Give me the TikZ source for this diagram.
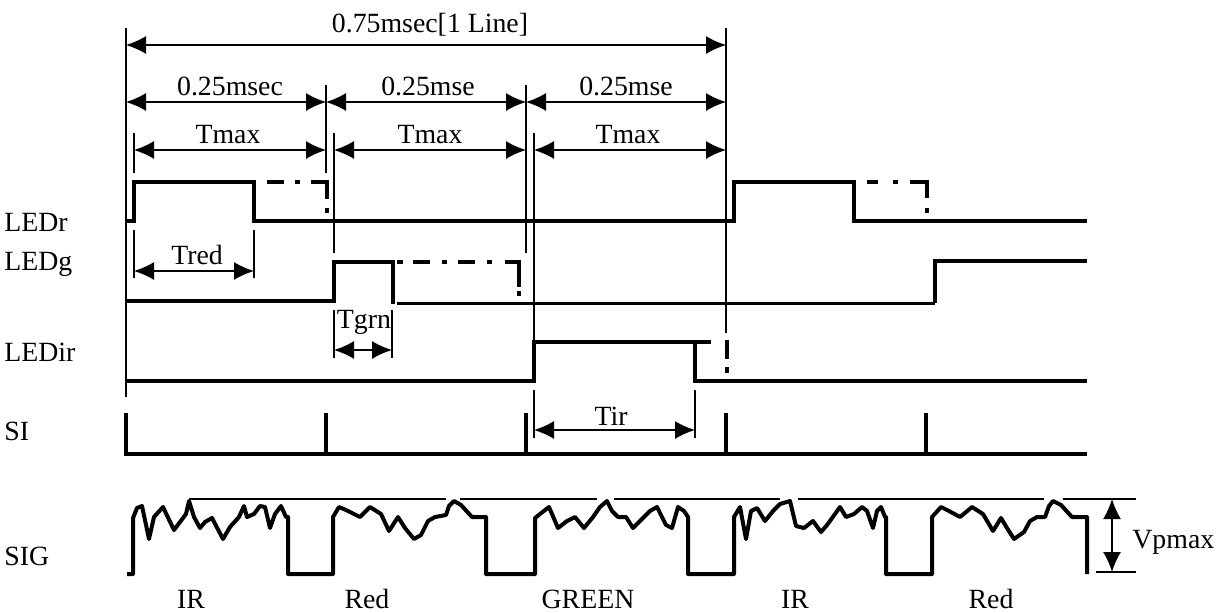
\documentclass[tikz,border=0pt]{standalone}
\usepackage{fontspec}
\setmainfont{Liberation Serif}
\usetikzlibrary{arrows.meta}
\begin{document}
\begin{tikzpicture}[x=0.5pt,y=-0.5pt,
  sig/.style={line width=2pt, line join=miter, line cap=butt},
  sigthin/.style={line width=1.5pt},
  guide/.style={line width=0.7pt},
  ref/.style={line width=0.6pt},
  dim/.style={line width=0.7pt, {Latex[length=10pt,width=9pt]}-{Latex[length=10pt,width=9pt]}},
  lbl/.style={font=\fontsize{13.9}{15}\selectfont, inner sep=0pt, anchor=base}]
\useasboundingbox (0,0) rectangle (1226,612);

% ---------- coordinates for dimension lines ----------
\coordinate (L0) at (126,45);  \coordinate (L1) at (726,45);
\coordinate (A0) at (126,102); \coordinate (A1) at (326,102);
\coordinate (B0) at (326,102); \coordinate (B1) at (526,102);
\coordinate (C0) at (526,102); \coordinate (C1) at (726,102);
\coordinate (M0) at (134,150); \coordinate (M1) at (326,150);
\coordinate (N0) at (334,150); \coordinate (N1) at (526,150);
\coordinate (P0) at (534,150); \coordinate (P1) at (726,150);
\coordinate (R0) at (134,271); \coordinate (R1) at (254,271);
\coordinate (G0) at (334,350); \coordinate (G1) at (392,350);
\coordinate (I0) at (534,430); \coordinate (I1) at (695,430);
\coordinate (V0) at (1112,499); \coordinate (V1) at (1112,572);

% ---------- guide lines ----------
\draw[guide] (126,28) -- (126,397);
\draw[guide] (726,28) -- (726,333);
\draw[guide] (326,85) -- (326,173);
\draw[guide] (526,85) -- (526,253);
\draw[guide] (134,133) -- (134,173);
\draw[guide] (334,133) -- (334,253);
\draw[guide] (534,133) -- (534,342);
\draw[guide] (134,230) -- (134,278);
\draw[guide] (254,230) -- (254,278);
\draw[guide] (334,310) -- (334,358);
\draw[guide] (392,310) -- (392,358);
\draw[guide] (534,390) -- (534,438);
\draw[guide] (695,390) -- (695,438);

% ---------- dimension arrows ----------
\draw[dim] (L0) -- (L1);
\draw[dim] (A0) -- (A1);
\draw[dim] (B0) -- (B1);
\draw[dim] (C0) -- (C1);
\draw[dim] (M0) -- (M1);
\draw[dim] (N0) -- (N1);
\draw[dim] (P0) -- (P1);
\draw[dim] (R0) -- (R1);
\draw[dim] (G0) -- (G1);
\draw[dim] (I0) -- (I1);
\draw[dim] (V0) -- (V1);

% ---------- dimension texts ----------
\node[lbl] (tline) at (430,32) {0.75msec[1 Line]};
\node[lbl] (ta) at (230,95) {0.25msec};
\node[lbl] (tb) at (428,95) {0.25mse};
\node[lbl] (tc) at (626,95) {0.25mse};
\node[lbl] (ma) at (228,143) {Tmax};
\node[lbl] (mb) at (430,143) {Tmax};
\node[lbl] (mc) at (628,143) {Tmax};
\node[lbl] (tred) at (197,264) {Tred};
\node[lbl] (tgrn) at (364,328) {Tgrn};
\node[lbl] (tir) at (611,425) {Tir};
\node[lbl, anchor=base west] (vp) at (1132,548) {Vpmax};

% ---------- row labels ----------
\node[lbl, anchor=base west] (ledr) at (4,231) {LEDr};
\node[lbl, anchor=base west] (ledg) at (4,270) {LEDg};
\node[lbl, anchor=base west] (ledir) at (4,361) {LEDir};
\node[lbl, anchor=base west] (si) at (4,440) {SI};
\node[lbl, anchor=base west] (sigl) at (4,565) {SIG};

% ---------- bottom labels ----------
\node[lbl] (b1) at (191,608) {IR};
\node[lbl] (b2) at (367,608) {Red};
\node[lbl] (b3) at (588,608) {GREEN};
\node[lbl] (b4) at (795,608) {IR};
\node[lbl] (b5) at (991,608) {Red};

% ---------- LEDr ----------
\draw[sig] (126,221) -- (134,221) -- (134,182) -- (254,182) -- (254,221) -- (734,221)
  -- (734,182) -- (854,182) -- (854,221) -- (1087,221);
\draw[sig] (267,182) -- (284,182);
\draw[sig] (295,182) -- (300,182);
\draw[sig] (311,182) -- (327,182) -- (327,199);
\draw[sig] (327,208) -- (327,213);
\draw[sig] (867,182) -- (878,182);
\draw[sig] (893,182) -- (898,182);
\draw[sig] (910,182) -- (927,182) -- (927,198);
\draw[sig] (927,208) -- (927,213);

% ---------- LEDg ----------
\draw[sig] (126,301) -- (334,301) -- (334,262) -- (393,262) -- (393,304);
\draw[sigthin] (397,303) -- (935,303);
\draw[sig] (935,303) -- (935,261) -- (1087,261);
\draw[sig] (397,262) -- (403,262);
\draw[sig] (413,262) -- (430,262);
\draw[sig] (442,262) -- (447,262);
\draw[sig] (458,262) -- (475,262);
\draw[sig] (487,262) -- (492,262);
\draw[sig] (505,262) -- (519,262) -- (519,287);
\draw[sig] (519,291) -- (519,296);

% ---------- LEDir ----------
\draw[sig] (126,381) -- (534,381) -- (534,342) -- (711,342);
\draw[sig] (695,342) -- (695,381) -- (1087,381);
\draw[sig] (727,340) -- (727,359);
\draw[sig] (727,367) -- (727,373);

% ---------- SI ----------
\draw[sig] (126,413) -- (126,454) -- (1087,454);
\foreach \x in {326,526,726,926} \draw[sig] (\x,413) -- (\x,454);

% ---------- SIG ----------
\draw[sig, line join=round] (127,574) -- (133,574) -- (133,518)
 -- (137,508) -- (142,506) -- (149,539) -- (154,517) -- (163,507) -- (174,530) -- (186,514)
 -- (189,501) -- (194,517) -- (200,528) -- (205,522) -- (212,518) -- (223,539) -- (230,527)
 -- (239,517) -- (244,506) -- (247,517) -- (254,514) -- (260,506) -- (265,507) -- (270,528)
 -- (275,514) -- (281,506) -- (286,517) -- (288,517)
 -- (288,574) -- (333,574) -- (333,517)
 -- (339,507) -- (346,510) -- (360,517) -- (370,507) -- (381,514) -- (389,531) -- (398,517)
 -- (405,528) -- (414,539) -- (421,535) -- (428,521) -- (435,517) -- (446,515) -- (449,506)
 -- (454,501) -- (461,505) -- (472,517) -- (486,517)
 -- (486,574) -- (535,574) -- (535,518)
 -- (540,514) -- (549,507) -- (558,528) -- (567,521) -- (575,517) -- (584,528) -- (593,517)
 -- (600,507) -- (607,501) -- (612,511) -- (618,517) -- (626,517) -- (633,528) -- (640,521)
 -- (650,511) -- (657,507) -- (666,525) -- (672,528) -- (678,507) -- (684,511) -- (688,517)
 -- (688,574) -- (734,574) -- (734,517)
 -- (740,507) -- (746,539) -- (751,511) -- (757,508) -- (765,521) -- (773,511) -- (780,504)
 -- (790,501) -- (796,526) -- (804,528) -- (813,521) -- (821,532) -- (827,525) -- (835,514)
 -- (840,507) -- (846,517) -- (854,514) -- (862,507) -- (867,511) -- (873,528) -- (877,511)
 -- (881,507) -- (885,517) -- (886,517)
 -- (886,574) -- (932,574) -- (932,517)
 -- (941,507) -- (949,511) -- (960,517) -- (972,507) -- (983,514) -- (993,531) -- (1001,518)
 -- (1007,528) -- (1014,539) -- (1024,532) -- (1030,521) -- (1037,517) -- (1045,517)
 -- (1049,506) -- (1053,501) -- (1061,505) -- (1072,517) -- (1087,517) -- (1087,574);

% reference lines for Vpmax
\draw[ref] (189,499) -- (446,499);
\draw[ref] (460,499) -- (597,499);
\draw[ref] (614,499) -- (780,499);
\draw[ref] (798,499) -- (1044,499);
\draw[ref] (1063,499) -- (1136,499);
\draw[ref] (1096,572) -- (1136,572);
\end{tikzpicture}
\end{document}
